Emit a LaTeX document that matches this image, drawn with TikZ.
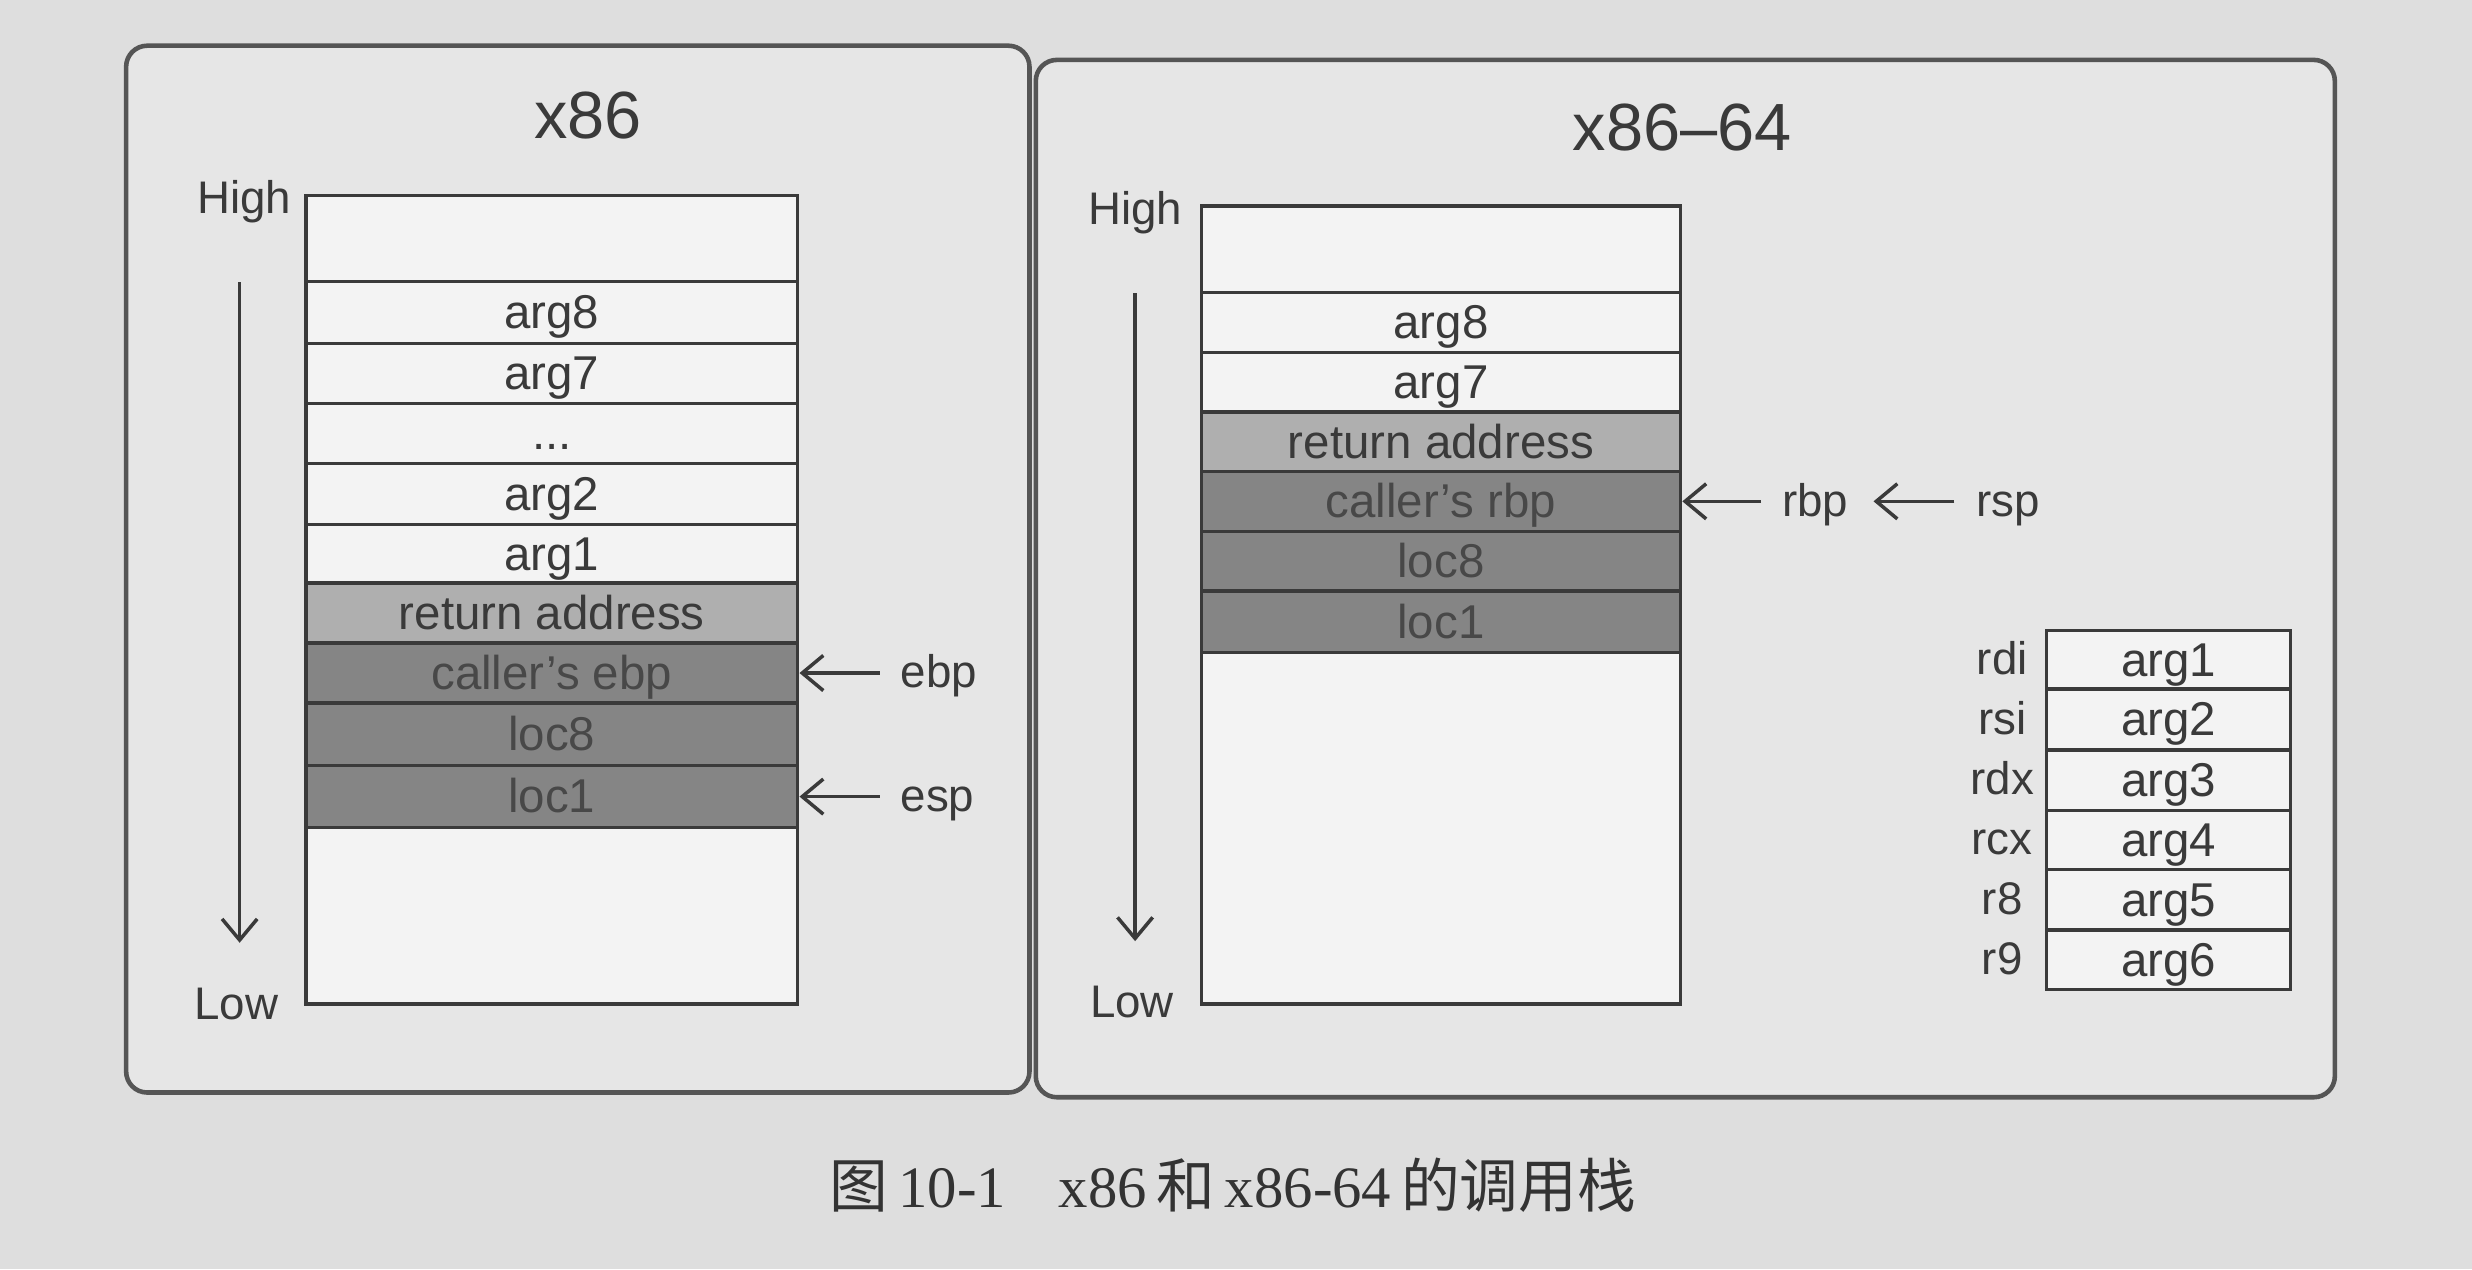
\documentclass[tikz,border=0pt]{standalone}
\usepackage{fontspec}
\setmainfont{Liberation Sans}
\newfontfamily\cjk{Noto Sans CJK SC}
\newfontfamily\capserif{Liberation Serif}
\usetikzlibrary{arrows.meta}
\definecolor{pagebg}{HTML}{DEDEDE}
\definecolor{panelbg}{HTML}{E6E6E6}
\definecolor{panelline}{HTML}{555555}
\definecolor{cellline}{HTML}{3A3A3A}
\definecolor{cellwhite}{HTML}{F3F3F3}
\definecolor{cellmid}{HTML}{AFAFAF}
\definecolor{celldark}{HTML}{858585}
\definecolor{txt}{HTML}{3A3A3A}
\definecolor{txtdark}{HTML}{484848}
\def\pxu{0.15765mm}
% style, name, x1, y1, x2, y2, text
\newcommand\stackcell[7]{%
  \node[#1, minimum width={(#5-#3)*\pxu}, minimum height={(#6-#4)*\pxu}]
    (#2) at ({(#3+#5)/2},{(#4+#6)/2}) {#7};}
\begin{document}
\begin{tikzpicture}[x=0.15765mm,y=-0.15765mm,
  panel/.style={draw=panelline, line width=1.3pt, rounded corners=6pt, fill=panelbg},
  cellw/.style={draw=cellline, line width=1pt, fill=cellwhite, inner sep=0pt, text=txt,
    font=\fontsize{13.5}{16}\selectfont, text height=9.7pt, text depth=0.4pt},
  cellm/.style={cellw, fill=cellmid},
  celld/.style={cellw, fill=celldark, text=txtdark},
  lbl/.style={font=\fontsize{13}{15}\selectfont, text=txt, inner sep=0pt,
    text height=9.4pt, text depth=1pt},
  ttl/.style={font=\fontsize{19}{22}\selectfont, text=txt, inner sep=0pt},
  ptr/.style={-{Straight Barb[length=6pt,width=10pt]}, line width=1pt, draw=cellline}]
\useasboundingbox[fill=pagebg] (0,0) rectangle (1568,805);

% panels
\path[panel] (80,29) rectangle (653,693);
\path[panel] (657,38) rectangle (1481,696);

% ---------- x86 ----------
\node[ttl] (t86) at (373,73) {x86};
\node[lbl] (high1) at (155,126) {High};
\node[lbl] (low1) at (150,637) {Low};
\coordinate (a1s) at (152,179);
\coordinate (a1e) at (152,598);
\draw[ptr] (a1s) -- (a1e);

\stackcell{cellw}{L0}{194}{124}{506}{178.5}{}
\stackcell{cellw}{L1}{194}{178.5}{506}{217.8}{arg8}
\stackcell{cellw}{L2}{194}{217.8}{506}{256}{arg7}
\stackcell{cellw}{L3}{194}{256}{506}{294}{...}
\stackcell{cellw}{L4}{194}{294}{506}{332.7}{arg2}
\stackcell{cellw}{L5}{194}{332.7}{506}{369.8}{arg1}
\stackcell{cellm}{L6}{194}{369.8}{506}{407.8}{return address}
\stackcell{celld}{L7}{194}{407.8}{506}{446}{caller’s ebp}
\stackcell{celld}{L8}{194}{446}{506}{485.6}{loc8}
\stackcell{celld}{L9}{194}{485.6}{506}{525}{loc1}
\stackcell{cellw}{L10}{194}{525}{506}{637}{}

\node[lbl, anchor=west] (ebp) at ([xshift=28.6pt]L7.east) {ebp};
\node[lbl, anchor=west] (esp) at ([xshift=28.6pt]L9.east) {esp};
\draw[ptr] ([xshift=-5.8pt]ebp.west) -- (L7.east);
\draw[ptr] ([xshift=-5.8pt]esp.west) -- (L9.east);

% ---------- x86-64 ----------
\node[ttl] (t64) at (1067,81) {x86–64};
\node[lbl] (high2) at (720,133) {High};
\node[lbl] (low2) at (718,636) {Low};
\coordinate (a2s) at (720,186);
\coordinate (a2e) at (720,597);
\draw[ptr] (a2s) -- (a2e);

\stackcell{cellw}{R0}{762}{130.6}{1066}{185.5}{}
\stackcell{cellw}{R1}{762}{185.5}{1066}{223.6}{arg8}
\stackcell{cellw}{R2}{762}{223.6}{1066}{261.3}{arg7}
\stackcell{cellm}{R3}{762}{261.3}{1066}{299}{return address}
\stackcell{celld}{R4}{762}{299}{1066}{337}{caller’s rbp}
\stackcell{celld}{R5}{762}{337}{1066}{375}{loc8}
\stackcell{celld}{R6}{762}{375}{1066}{414}{loc1}
\stackcell{cellw}{R7}{762}{414}{1066}{637}{}

\node[lbl, anchor=west] (rbp) at ([xshift=28.2pt]R4.east) {rbp};
\node[lbl, anchor=west] (rsp) at ([xshift=36pt]rbp.east) {rsp};
\draw[ptr] ([xshift=-5.8pt]rbp.west) -- (R4.east);
\draw[ptr] ([xshift=-6pt]rsp.west) -- ([xshift=7pt]rbp.east);

% register table
\stackcell{cellw}{G1}{1298}{400}{1453}{437}{arg1}
\stackcell{cellw}{G2}{1298}{437}{1453}{475.6}{arg2}
\stackcell{cellw}{G3}{1298}{475.6}{1453}{514}{arg3}
\stackcell{cellw}{G4}{1298}{514}{1453}{551.5}{arg4}
\stackcell{cellw}{G5}{1298}{551.5}{1453}{590}{arg5}
\stackcell{cellw}{G6}{1298}{590}{1453}{627.5}{arg6}
\coordinate (rx) at (1270,0);
\node[lbl] (rdi) at (rx |- G1.center) {rdi};
\node[lbl] (rsi) at (rx |- G2.center) {rsi};
\node[lbl] (rdx) at (rx |- G3.center) {rdx};
\node[lbl] (rcx) at (rx |- G4.center) {rcx};
\node[lbl] (r8) at (rx |- G5.center) {r8};
\node[lbl] (r9) at (rx |- G6.center) {r9};

% caption
\node[font=\fontsize{16.7}{20}\selectfont, text=black!80, inner sep=0pt] (cap) at (782,752)
  {{\cjk 图}\,{\capserif 10-1}\hspace{15pt}{\capserif x86}\,{\cjk 和}\,{\capserif x86-64}\,{\cjk 的调用栈}};
\end{tikzpicture}
\end{document}
